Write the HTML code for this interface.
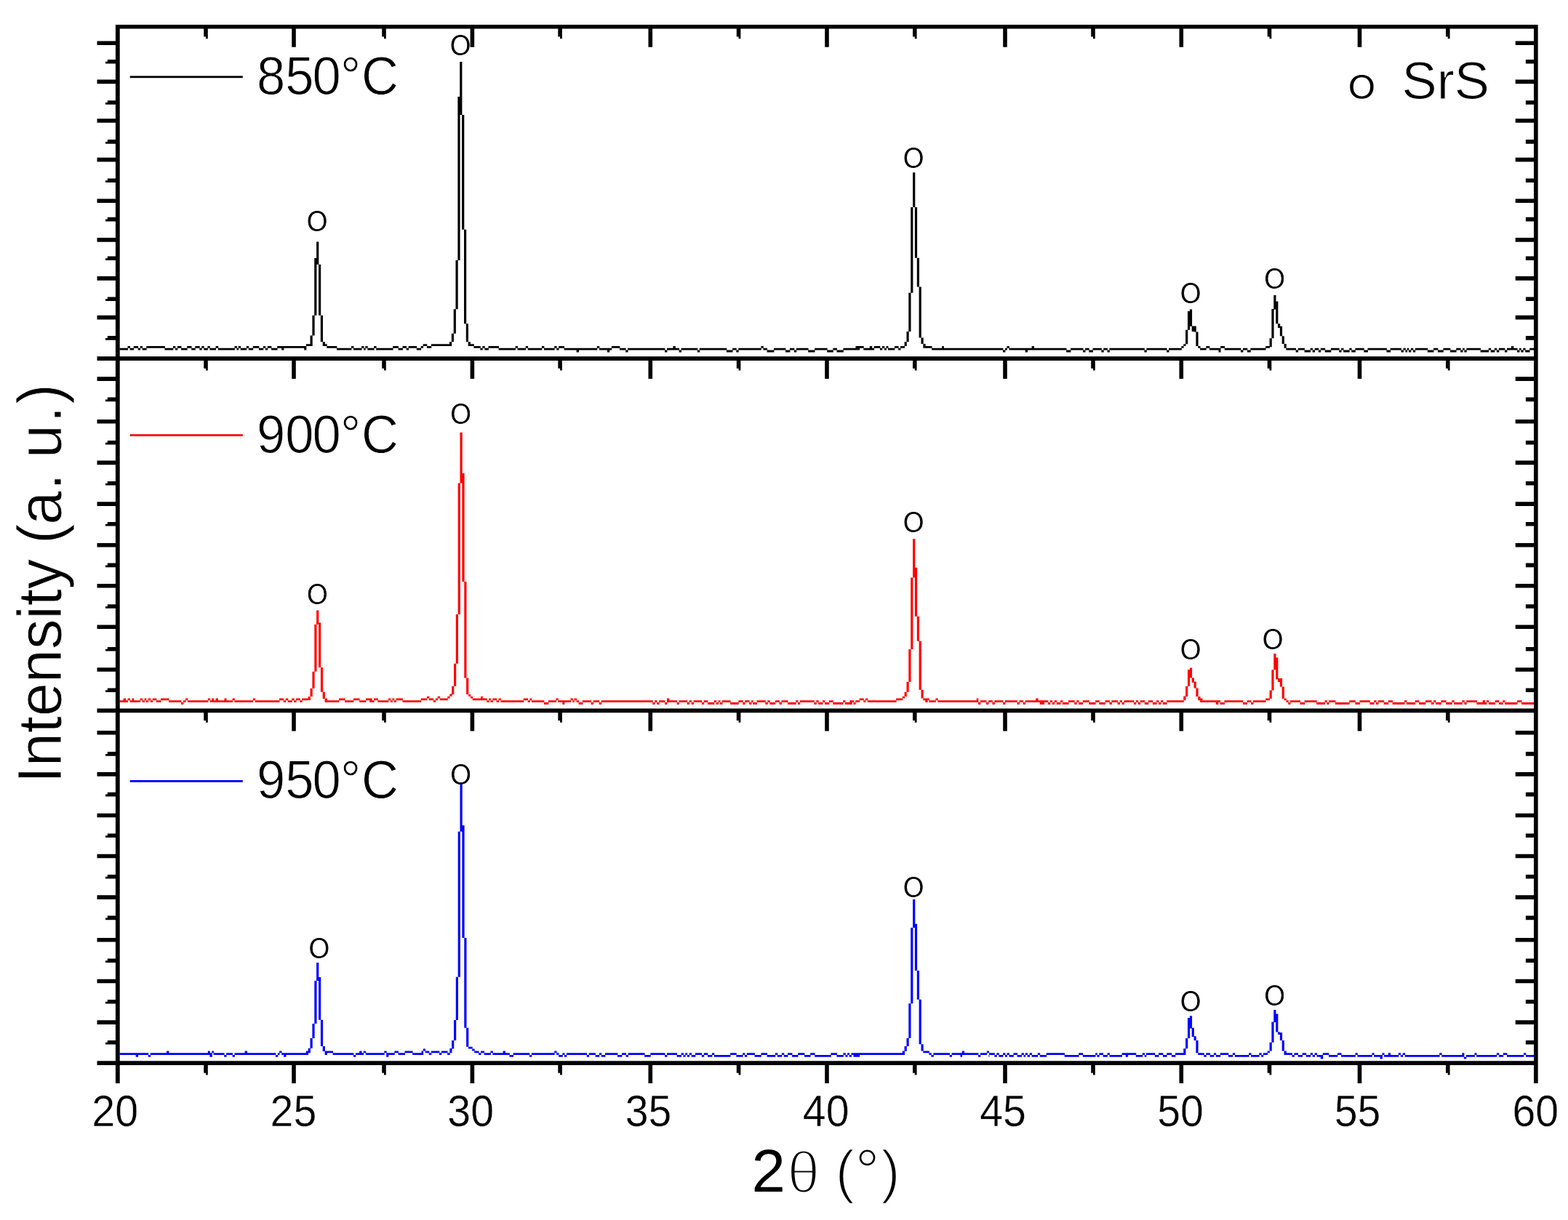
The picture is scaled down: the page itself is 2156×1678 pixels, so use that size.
<!DOCTYPE html>
<html lang="en">
<head>
<meta charset="utf-8">
<title>XRD patterns of SrS at 850, 900 and 950 degrees C</title>
<style>
html,body{margin:0;padding:0;background:#fff;}
body{width:2156px;height:1678px;overflow:hidden;}
svg{display:block;filter:blur(0.7px);}
text{white-space:pre;}
</style>
</head>
<body>
<svg width="2156" height="1678" viewBox="0 0 2156 1678">
<rect width="2156" height="1678" fill="#fff"/>
<g id="curves">
<path fill="#000000" d="M426.50 461.6H429.70V476.0H426.50ZM429.40 433.7H432.60V461.6H429.40ZM432.20 355.0H435.40V433.7H432.20ZM435.10 332.6H438.30V363.7H435.10ZM438.00 363.7H441.20V433.7H438.00ZM440.80 433.7H444.00V470.2H440.80ZM443.70 470.2H446.90V476.0H443.70ZM446.50 473.2H449.70V476.0H446.50ZM618.00 470.2H621.20V476.0H618.00ZM620.80 458.8H624.00V470.2H620.80ZM623.70 425.2H626.90V458.8H623.70ZM626.50 358.0H629.70V425.2H626.50ZM629.40 133.0H632.60V358.0H629.40ZM632.20 85.1H635.40V158.0H632.20ZM635.10 158.0H638.30V315.8H635.10ZM638.00 315.8H641.20V445.2H638.00ZM640.80 445.2H644.00V470.2H640.80ZM643.70 470.2H646.90V476.0H643.70ZM1243.60 470.3H1246.80V476.0H1243.60ZM1246.50 456.0H1249.70V470.3H1246.50ZM1249.30 402.7H1252.50V456.0H1249.30ZM1252.20 285.1H1255.40V402.7H1252.20ZM1255.10 237.2H1258.30V285.1H1255.10ZM1257.90 285.1H1261.10V354.8H1257.90ZM1260.80 354.8H1264.00V394.4H1260.80ZM1263.60 394.4H1266.80V464.6H1263.60ZM1266.50 464.6H1269.70V473.1H1266.50ZM1269.40 473.1H1272.60V478.8H1269.40ZM1624.40 476.0H1627.60V478.8H1624.40ZM1627.30 473.2H1630.50V476.0H1627.30ZM1630.10 453.7H1633.30V473.2H1630.10ZM1633.00 428.0H1636.20V453.7H1633.00ZM1635.90 425.5H1639.10V448.7H1635.90ZM1638.70 448.4H1641.90V455.9H1638.70ZM1641.60 448.4H1644.80V456.6H1641.60ZM1644.40 456.6H1647.60V476.0H1644.40ZM1647.30 476.0H1650.50V478.8H1647.30ZM1745.60 465.2H1748.80V477.3H1745.60ZM1748.40 425.1H1751.60V465.2H1748.40ZM1751.30 406.1H1754.50V425.8H1751.30ZM1754.20 414.4H1757.40V445.2H1754.20ZM1757.00 445.2H1760.20V450.9H1757.00ZM1759.90 448.7H1763.10V462.3H1759.90ZM1762.70 462.3H1765.90V473.0H1762.70ZM1765.60 473.0H1768.80V478.8H1765.60ZM164.50 478.8H175.98V481.6H164.50ZM175.58 476.0H178.95V478.8H175.58ZM178.55 478.8H184.15V481.6H178.55ZM183.75 476.0H190.08V478.8H183.75ZM189.68 478.8H193.05V481.6H189.68ZM192.65 476.0H196.02V478.8H192.65ZM195.62 478.8H201.66V481.6H195.62ZM201.26 476.0H226.89V478.8H201.26ZM226.49 478.8H238.32V481.6H226.49ZM237.92 476.0H241.29V478.8H237.92ZM240.89 478.8H244.26V481.6H240.89ZM243.86 476.0H249.45V478.8H243.86ZM249.05 478.8H257.62V481.6H249.05ZM257.22 476.0H263.55V478.8H257.22ZM263.15 478.8H268.75V481.6H263.15ZM268.35 476.0H274.69V478.8H268.35ZM274.29 478.8H277.65V481.6H274.29ZM277.25 476.0H280.62V478.8H277.25ZM280.22 478.8H285.82V481.6H280.22ZM285.42 476.0H288.79V478.8H285.42ZM288.39 478.8H296.95V481.6H288.39ZM296.55 476.0H300.21V478.8H296.55ZM299.81 478.8H322.92V481.6H299.81ZM322.52 476.0H325.89V478.8H322.52ZM325.49 478.8H328.12V481.6H325.49ZM327.72 476.0H331.09V478.8H327.72ZM330.69 478.8H339.25V481.6H330.69ZM338.85 476.0H342.22V478.8H338.85ZM341.82 478.8H348.16V481.6H341.82ZM347.76 476.0H356.32V478.8H347.76ZM355.92 478.8H362.26V481.6H355.92ZM361.86 476.0H365.22V478.8H361.86ZM364.82 478.8H368.19V481.6H364.82ZM367.79 476.0H373.39V478.8H367.79ZM372.99 478.8H381.55V481.6H372.99ZM381.15 476.0H387.49V478.8H381.15ZM387.09 476.0H390.46V481.6H387.09ZM390.06 476.0H418.66V478.8H390.06ZM418.26 476.0H421.33V481.6H418.26ZM420.93 473.2H426.90V476.0H420.93ZM449.30 476.0H463.37V478.8H449.30ZM462.97 478.8H483.41V481.6H462.97ZM483.01 476.0H486.37V478.8H483.01ZM485.97 478.8H497.51V481.6H485.97ZM497.11 476.0H500.47V478.8H497.11ZM500.07 478.8H502.70V481.6H500.07ZM502.30 476.0H505.67V478.8H502.30ZM505.27 478.8H514.57V481.6H505.27ZM514.17 476.0H517.54V478.8H514.17ZM517.14 478.8H540.55V481.6H517.14ZM540.15 476.0H547.97V478.8H540.15ZM547.57 478.8H553.91V481.6H547.57ZM553.51 476.0H559.10V478.8H553.51ZM558.70 478.8H562.07V481.6H558.70ZM561.67 476.0H573.20V478.8H561.67ZM572.80 478.8H579.14V481.6H572.80ZM578.74 476.0H582.11V478.8H578.74ZM581.71 473.2H587.30V476.0H581.71ZM586.90 476.0H593.24V478.8H586.90ZM592.84 473.2H618.40V476.0H592.84ZM646.50 473.2H651.87V476.0H646.50ZM651.47 476.0H660.77V478.8H651.47ZM660.37 478.8H663.74V481.6H660.37ZM663.34 476.0H666.71V478.8H663.34ZM666.31 478.8H671.90V481.6H666.31ZM671.50 476.0H686.00V478.8H671.50ZM685.60 478.8H709.01V481.6H685.60ZM708.61 476.0H711.98V478.8H708.61ZM711.58 478.8H723.11V481.6H711.58ZM722.71 476.0H726.08V478.8H722.71ZM725.68 478.8H745.37V481.6H725.68ZM744.97 476.0H748.34V478.8H744.97ZM747.94 478.8H760.40V481.6H747.94ZM760.00 478.8H762.63V481.6H760.00ZM762.23 476.0H765.59V478.8H762.23ZM765.19 478.8H768.56V481.6H765.19ZM768.16 476.0H775.98V478.8H768.16ZM775.58 478.8H793.05V481.6H775.58ZM792.65 478.8H796.02V484.4H792.65ZM795.62 478.8H821.25V481.6H795.62ZM820.85 476.0H824.22V478.8H820.85ZM823.82 478.8H835.35V481.6H823.82ZM834.95 478.8H838.32V484.4H834.95ZM837.92 478.8H841.29V481.6H837.92ZM840.89 476.0H852.42V478.8H840.89ZM852.02 478.8H860.59V481.6H852.02ZM860.19 481.6H863.55V484.4H860.19ZM863.15 478.8H914.46V481.6H863.15ZM914.06 481.6H917.43V484.4H914.06ZM917.03 478.8H925.89V481.6H917.03ZM925.49 476.0H928.86V481.6H925.49ZM928.46 478.8H934.05V481.6H928.46ZM933.65 481.6H937.02V484.4H933.65ZM936.62 478.8H959.29V481.6H936.62ZM958.89 481.6H962.26V484.4H958.89ZM961.86 478.8H999.36V481.6H961.86ZM998.96 481.6H1007.52V484.4H998.96ZM1007.12 478.8H1012.72V481.6H1007.12ZM1012.32 481.6H1015.69V484.4H1012.32ZM1015.29 478.8H1046.86V481.6H1015.29ZM1046.46 476.0H1049.82V478.8H1046.46ZM1049.42 478.8H1055.02V481.6H1049.42ZM1054.62 481.6H1064.41V484.4H1054.62ZM1064.01 478.8H1080.44V481.6H1064.01ZM1080.04 481.6H1086.37V484.4H1080.04ZM1085.97 478.8H1092.31V481.6H1085.97ZM1091.91 481.6H1095.28V484.4H1091.91ZM1094.88 478.8H1111.61V481.6H1094.88ZM1111.21 481.6H1120.51V484.4H1111.21ZM1120.11 478.8H1137.58V481.6H1120.11ZM1137.18 481.6H1145.74V484.4H1137.18ZM1145.34 478.8H1150.94V481.6H1145.34ZM1150.54 481.6H1159.84V484.4H1150.54ZM1159.44 478.8H1176.91V481.6H1159.44ZM1176.51 476.0H1182.11V481.6H1176.51ZM1181.71 476.0H1187.75V478.8H1181.71ZM1187.35 478.8H1196.21V481.6H1187.35ZM1195.81 476.0H1199.18V481.6H1195.81ZM1198.78 478.8H1202.14V481.6H1198.78ZM1201.74 476.0H1210.31V478.8H1201.74ZM1209.91 478.8H1213.28V481.6H1209.91ZM1212.88 476.0H1216.24V478.8H1212.88ZM1215.84 478.8H1218.92V481.6H1215.84ZM1218.52 476.0H1221.44V478.8H1218.52ZM1221.04 478.8H1230.34V481.6H1221.04ZM1229.94 476.0H1235.54V478.8H1229.94ZM1235.14 478.8H1238.51V481.6H1235.14ZM1238.11 476.0H1244.00V478.8H1238.11ZM1272.20 476.0H1281.55V478.8H1272.20ZM1281.15 478.8H1295.65V481.6H1281.15ZM1295.25 476.0H1297.88V481.6H1295.25ZM1297.48 478.8H1360.40V481.6H1297.48ZM1360.00 478.8H1379.40V481.6H1360.00ZM1379.00 481.6H1382.37V484.4H1379.00ZM1381.97 478.8H1384.89V481.6H1381.97ZM1384.49 476.0H1387.86V478.8H1384.49ZM1387.46 478.8H1410.12V481.6H1387.46ZM1409.72 478.8H1413.09V484.4H1409.72ZM1412.69 478.8H1419.03V481.6H1412.69ZM1418.63 476.0H1422.00V481.6H1418.63ZM1421.60 478.8H1466.52V481.6H1421.60ZM1466.12 481.6H1472.46V484.4H1466.12ZM1472.06 478.8H1489.53V481.6H1472.06ZM1489.13 481.6H1492.50V484.4H1489.13ZM1492.10 478.8H1497.69V481.6H1492.10ZM1497.29 481.6H1502.89V484.4H1497.29ZM1502.49 478.8H1514.76V481.6H1502.49ZM1514.36 481.6H1517.73V484.4H1514.36ZM1517.33 478.8H1522.92V481.6H1517.33ZM1522.52 481.6H1525.89V484.4H1522.52ZM1525.49 478.8H1573.83V481.6H1525.49ZM1573.43 481.6H1576.80V484.4H1573.43ZM1576.40 478.8H1604.56V481.6H1576.40ZM1604.16 481.6H1607.52V484.4H1604.16ZM1607.12 478.8H1624.80V481.6H1607.12ZM1650.10 478.8H1658.73V481.6H1650.10ZM1658.33 476.0H1660.40V478.8H1658.33ZM1660.00 476.0H1663.37V478.8H1660.00ZM1662.97 478.8H1675.98V481.6H1662.97ZM1675.58 478.8H1678.51V484.4H1675.58ZM1678.11 476.0H1684.15V478.8H1678.11ZM1683.75 478.8H1706.41V481.6H1683.75ZM1706.01 481.6H1709.38V484.4H1706.01ZM1708.98 478.8H1715.32V481.6H1708.98ZM1714.92 481.6H1719.77V484.4H1714.92ZM1719.37 478.8H1740.55V481.6H1719.37ZM1740.15 476.0H1746.00V478.8H1740.15ZM1768.40 478.8H1782.11V481.6H1768.40ZM1781.71 481.6H1785.08V484.4H1781.71ZM1784.68 478.8H1793.98V481.6H1784.68ZM1793.58 481.6H1802.14V484.4H1793.58ZM1801.74 478.8H1805.11V481.6H1801.74ZM1804.71 481.6H1808.08V484.4H1804.71ZM1807.68 478.8H1813.28V481.6H1807.68ZM1812.88 481.6H1816.24V484.4H1812.88ZM1815.84 478.8H1822.18V481.6H1815.84ZM1821.78 481.6H1830.34V484.4H1821.78ZM1829.94 478.8H1836.40V481.6H1829.94ZM1836.00 478.8H1841.59V481.6H1836.00ZM1841.19 481.6H1844.56V484.4H1841.19ZM1844.16 478.8H1847.53V481.6H1844.16ZM1847.13 481.6H1855.69V484.4H1847.13ZM1855.29 478.8H1858.66V481.6H1855.29ZM1858.26 481.6H1863.86V484.4H1858.26ZM1863.46 478.8H1875.73V481.6H1863.46ZM1875.33 481.6H1880.93V484.4H1875.33ZM1880.53 478.8H1906.90V481.6H1880.53ZM1906.50 481.6H1912.10V484.4H1906.50ZM1911.70 478.8H1926.94V481.6H1911.70ZM1926.54 481.6H1929.91V484.4H1926.54ZM1929.51 478.8H1932.87V481.6H1929.51ZM1932.47 481.6H1935.10V484.4H1932.47ZM1934.70 478.8H1937.33V481.6H1934.70ZM1936.93 481.6H1940.30V484.4H1936.93ZM1939.90 478.8H1943.26V481.6H1939.90ZM1942.86 481.6H1946.23V484.4H1942.86ZM1945.83 478.8H1963.30V481.6H1945.83ZM1962.90 481.6H1971.46V484.4H1962.90ZM1971.06 478.8H1977.40V481.6H1971.06ZM1977.00 481.6H1984.82V484.4H1977.00ZM1984.42 478.8H1994.47V481.6H1984.42ZM1994.07 481.6H2002.63V484.4H1994.07ZM2002.23 478.8H2008.57V481.6H2002.23ZM2008.17 481.6H2011.54V484.4H2008.17ZM2011.14 478.8H2013.77V481.6H2011.14ZM2013.37 481.6H2016.73V484.4H2013.37ZM2016.33 478.8H2036.03V481.6H2016.33ZM2035.63 481.6H2047.16V484.4H2035.63ZM2046.76 478.8H2050.13V481.6H2046.76ZM2049.73 481.6H2055.32V484.4H2049.73ZM2054.92 478.8H2058.29V481.6H2054.92ZM2057.89 481.6H2061.26V484.4H2057.89ZM2060.86 478.8H2069.42V481.6H2060.86ZM2069.02 481.6H2072.39V484.4H2069.02ZM2071.99 478.8H2078.33V481.6H2071.99ZM2077.93 476.0H2081.30V481.6H2077.93ZM2080.90 478.8H2086.49V481.6H2080.90ZM2086.09 481.6H2089.46V484.4H2086.09ZM2089.06 478.8H2091.69V481.6H2089.06ZM2091.29 481.6H2094.66V484.4H2091.29ZM2094.26 478.8H2097.62V481.6H2094.26ZM2097.22 481.6H2103.56V484.4H2097.22ZM2103.16 478.8H2112.17V481.6H2103.16Z"/>
<path fill="#ff0000" d="M423.70 958.1H426.90V963.1H423.70ZM426.50 946.7H429.70V958.1H426.50ZM429.40 923.8H432.60V946.7H429.40ZM432.30 858.7H435.50V923.8H432.30ZM435.10 839.4H438.30V858.7H435.10ZM438.00 856.6H441.20V918.1H438.00ZM440.90 918.1H444.10V951.7H440.90ZM443.70 951.7H446.90V961.0H443.70ZM446.60 960.5H449.80V966.1H446.60ZM615.40 957.7H618.60V960.5H615.40ZM618.30 954.6H621.50V957.7H618.30ZM621.10 943.8H624.30V955.3H621.10ZM624.00 912.8H627.20V943.8H624.00ZM626.80 845.1H630.00V912.8H626.80ZM629.70 664.5H632.90V845.1H629.70ZM632.50 594.7H635.70V664.5H632.50ZM635.40 650.9H638.60V800.0H635.40ZM638.30 800.0H641.50V932.4H638.30ZM641.10 932.4H644.30V954.9H641.10ZM644.00 954.9H647.20V957.7H644.00ZM646.90 957.7H650.10V960.5H646.90ZM1240.80 957.7H1244.00V960.5H1240.80ZM1243.60 951.7H1246.80V958.1H1243.60ZM1246.50 937.7H1249.70V951.7H1246.50ZM1249.30 893.0H1252.50V937.7H1249.30ZM1252.20 794.4H1255.40V893.0H1252.20ZM1255.10 741.2H1258.30V794.4H1255.10ZM1257.90 780.8H1261.10V847.7H1257.90ZM1260.80 847.7H1264.00V881.7H1260.80ZM1263.60 881.7H1266.80V948.8H1263.60ZM1266.50 948.8H1269.70V960.5H1266.50ZM1627.30 957.6H1630.50V963.3H1627.30ZM1630.10 943.7H1633.30V958.0H1630.10ZM1633.00 920.9H1636.20V943.7H1633.00ZM1635.90 918.4H1639.10V932.3H1635.90ZM1638.70 932.3H1641.90V938.7H1638.70ZM1641.60 937.6H1644.80V946.6H1641.60ZM1644.40 946.6H1647.60V958.0H1644.40ZM1647.30 958.0H1650.50V963.3H1647.30ZM1650.20 960.5H1653.40V966.1H1650.20ZM1745.60 949.5H1748.80V960.9H1745.60ZM1748.40 921.3H1751.60V949.5H1748.40ZM1751.30 899.0H1754.50V921.3H1751.30ZM1754.20 904.4H1757.40V934.4H1754.20ZM1757.00 933.0H1760.20V938.0H1757.00ZM1759.90 933.0H1763.10V944.5H1759.90ZM1762.70 944.5H1765.90V960.9H1762.70ZM1765.60 960.5H1768.80V963.3H1765.60ZM1768.50 963.3H1771.70V966.1H1768.50ZM1771.30 966.1H1774.50V968.9H1771.30ZM164.50 963.3H170.05V966.1H164.50ZM169.65 960.5H173.02V966.1H169.65ZM172.62 963.3H175.98V966.1H172.62ZM175.58 960.5H178.95V963.3H175.58ZM178.55 963.3H181.92V966.1H178.55ZM181.52 960.5H184.15V966.1H181.52ZM183.75 963.3H193.05V966.1H183.75ZM192.65 960.5H196.02V963.3H192.65ZM195.62 963.3H198.99V966.1H195.62ZM198.59 960.5H201.22V963.3H198.59ZM200.82 963.3H204.18V966.1H200.82ZM203.78 960.5H207.15V963.3H203.78ZM206.75 963.3H210.12V966.1H206.75ZM209.72 960.5H215.32V963.3H209.72ZM214.92 963.3H221.25V966.1H214.92ZM220.85 960.5H232.39V963.3H220.85ZM231.99 963.3H249.45V966.1H231.99ZM249.05 966.1H252.42V968.9H249.05ZM252.02 963.3H255.39V966.1H252.02ZM254.99 960.5H258.36V963.3H254.99ZM257.96 963.3H286.26V966.1H257.96ZM285.86 960.5H289.23V963.3H285.86ZM288.83 963.3H291.75V966.1H288.83ZM291.35 960.5H293.98V966.1H291.35ZM293.58 963.3H296.95V966.1H293.58ZM296.55 960.5H299.92V966.1H296.55ZM299.52 963.3H308.82V966.1H299.52ZM308.42 960.5H311.49V966.1H308.42ZM311.09 963.3H319.95V966.1H311.09ZM319.55 960.5H322.92V963.3H319.55ZM322.52 963.3H348.16V966.1H322.52ZM347.76 960.5H351.12V963.3H347.76ZM350.72 963.3H384.52V966.1H350.72ZM384.12 960.5H390.16V963.3H384.12ZM389.76 963.3H393.13V966.1H389.76ZM392.73 960.5H396.10V963.3H392.73ZM395.70 963.3H401.59V966.1H395.70ZM401.19 960.5H404.56V963.3H401.19ZM404.16 963.3H407.52V966.1H404.16ZM407.12 960.5H412.72V963.3H407.12ZM412.32 963.3H415.69V966.1H412.32ZM415.29 960.5H424.10V963.3H415.29ZM449.40 963.3H460.40V966.1H449.40ZM460.00 963.3H466.34V966.1H460.00ZM465.94 960.5H474.50V963.3H465.94ZM474.10 963.3H486.37V966.1H474.10ZM485.97 960.5H494.54V963.3H485.97ZM494.14 963.3H503.44V966.1H494.14ZM503.04 960.5H508.64V963.3H503.04ZM508.24 960.5H511.61V966.1H508.24ZM511.21 963.3H514.57V966.1H511.21ZM514.17 960.5H519.77V963.3H514.17ZM519.37 963.3H534.31V966.1H519.37ZM533.91 960.5H537.28V963.3H533.91ZM536.88 963.3H539.81V966.1H536.88ZM539.41 960.5H542.33V963.3H539.41ZM541.93 963.3H545.00V966.1H541.93ZM544.60 960.5H553.91V963.3H544.60ZM553.51 963.3H579.14V966.1H553.51ZM578.74 960.5H587.30V963.3H578.74ZM586.90 957.7H590.27V960.5H586.90ZM589.87 960.5H596.21V963.3H589.87ZM595.81 963.3H599.18V966.1H595.81ZM598.78 960.5H602.14V963.3H598.78ZM601.74 957.7H605.11V960.5H601.74ZM604.71 960.5H615.80V963.3H604.71ZM649.70 960.5H661.51V963.3H649.70ZM661.11 957.7H663.74V963.3H661.11ZM663.34 960.5H669.68V963.3H663.34ZM669.28 963.3H672.64V966.1H669.28ZM672.24 960.5H674.87V963.3H672.24ZM674.47 963.3H677.84V966.1H674.47ZM677.44 960.5H683.03V963.3H677.44ZM682.63 963.3H686.00V966.1H682.63ZM685.60 960.5H688.97V963.3H685.60ZM688.57 963.3H720.14V966.1H688.57ZM719.74 960.5H726.08V963.3H719.74ZM725.68 963.3H728.75V966.1H725.68ZM728.35 960.5H731.27V963.3H728.35ZM730.87 963.3H748.34V966.1H730.87ZM747.94 966.1H754.28V968.9H747.94ZM753.88 963.3H760.40V966.1H753.88ZM760.00 963.3H764.85V966.1H760.00ZM764.45 960.5H767.82V963.3H764.45ZM767.42 963.3H773.76V966.1H767.42ZM773.36 963.3H776.43V968.9H773.36ZM776.03 963.3H784.89V966.1H776.03ZM784.49 960.5H787.86V963.3H784.49ZM787.46 963.3H790.08V966.1H787.46ZM789.68 960.5H793.05V963.3H789.68ZM792.65 963.3H796.02V966.1H792.65ZM795.62 966.1H801.22V968.9H795.62ZM800.82 963.3H813.09V966.1H800.82ZM812.69 966.1H816.06V968.9H812.69ZM815.66 963.3H824.22V966.1H815.66ZM823.82 966.1H827.19V968.9H823.82ZM826.79 963.3H897.69V966.1H826.79ZM897.29 966.1H900.66V968.9H897.29ZM900.26 963.3H903.63V966.1H900.26ZM903.23 966.1H906.60V968.9H903.23ZM906.20 963.3H914.46V966.1H906.20ZM914.06 966.1H917.43V968.9H914.06ZM917.03 960.5H920.40V966.1H917.03ZM920.00 963.3H931.09V966.1H920.00ZM930.69 966.1H934.05V968.9H930.69ZM933.65 963.3H945.19V966.1H933.65ZM944.79 966.1H948.16V968.9H944.79ZM947.76 963.3H951.12V966.1H947.76ZM950.72 966.1H954.09V968.9H950.72ZM953.69 963.3H965.22V966.1H953.69ZM964.82 966.1H968.19V968.9H964.82ZM967.79 963.3H973.39V966.1H967.79ZM972.99 966.1H982.29V968.9H972.99ZM981.89 963.3H985.26V966.1H981.89ZM984.86 966.1H988.23V968.9H984.86ZM987.83 963.3H990.46V966.1H987.83ZM990.06 966.1H993.42V968.9H990.06ZM993.02 963.3H1004.56V966.1H993.02ZM1004.16 966.1H1015.69V968.9H1004.16ZM1015.29 963.3H1021.62V966.1H1015.29ZM1021.22 966.1H1024.59V968.9H1021.22ZM1024.19 963.3H1030.53V966.1H1024.19ZM1030.13 966.1H1033.50V968.9H1030.13ZM1033.10 963.3H1035.72V966.1H1033.10ZM1035.32 966.1H1040.92V968.9H1035.32ZM1040.52 963.3H1052.79V966.1H1040.52ZM1052.39 966.1H1055.76V968.9H1052.39ZM1055.36 963.3H1058.73V966.1H1055.36ZM1058.33 966.1H1060.40V968.9H1058.33ZM1060.00 966.1H1066.34V968.9H1060.00ZM1065.94 963.3H1071.98V966.1H1065.94ZM1071.58 966.1H1074.95V968.9H1071.58ZM1074.55 963.3H1083.41V966.1H1074.55ZM1083.01 966.1H1094.54V968.9H1083.01ZM1094.14 963.3H1097.51V966.1H1094.14ZM1097.11 966.1H1100.18V968.9H1097.11ZM1099.78 963.3H1119.77V966.1H1099.78ZM1119.37 966.1H1122.74V968.9H1119.37ZM1122.34 963.3H1125.71V966.1H1122.34ZM1125.31 966.1H1131.35V968.9H1125.31ZM1130.95 963.3H1134.31V966.1H1130.95ZM1133.91 966.1H1140.25V968.9H1133.91ZM1139.85 963.3H1145.74V966.1H1139.85ZM1145.34 966.1H1159.55V968.9H1145.34ZM1159.15 963.3H1162.52V966.1H1159.15ZM1162.12 966.1H1168.75V968.9H1162.12ZM1168.35 963.3H1171.72V968.9H1168.35ZM1171.32 963.3H1173.94V966.1H1171.32ZM1173.54 966.1H1176.62V968.9H1173.54ZM1176.22 963.3H1182.11V966.1H1176.22ZM1181.71 960.5H1187.75V963.3H1181.71ZM1187.35 963.3H1190.27V966.1H1187.35ZM1189.87 960.5H1193.24V963.3H1189.87ZM1192.84 963.3H1232.57V966.1H1192.84ZM1232.17 960.5H1241.20V963.3H1232.17ZM1269.30 960.5H1272.64V963.3H1269.30ZM1272.24 960.5H1275.61V966.1H1272.24ZM1275.21 960.5H1277.84V963.3H1275.21ZM1277.44 963.3H1286.75V966.1H1277.44ZM1286.35 960.5H1289.71V963.3H1286.35ZM1289.31 963.3H1343.15V966.1H1289.31ZM1342.75 960.5H1345.37V966.1H1342.75ZM1344.97 966.1H1348.34V968.9H1344.97ZM1347.94 963.3H1356.50V966.1H1347.94ZM1356.10 966.1H1359.47V968.9H1356.10ZM1359.07 963.3H1360.40V966.1H1359.07ZM1360.00 963.3H1364.85V966.1H1360.00ZM1364.45 966.1H1367.82V968.9H1364.45ZM1367.42 963.3H1379.40V966.1H1367.42ZM1379.00 966.1H1382.37V968.9H1379.00ZM1381.97 963.3H1398.99V966.1H1381.97ZM1398.59 966.1H1401.96V968.9H1398.59ZM1401.56 963.3H1407.15V966.1H1401.56ZM1406.75 966.1H1410.12V968.9H1406.75ZM1409.72 963.3H1424.52V966.1H1409.72ZM1424.12 960.5H1427.49V966.1H1424.12ZM1427.09 963.3H1430.16V966.1H1427.09ZM1429.76 963.3H1436.10V968.9H1429.76ZM1435.70 963.3H1441.29V966.1H1435.70ZM1440.89 966.1H1444.26V968.9H1440.89ZM1443.86 963.3H1447.23V966.1H1443.86ZM1446.83 966.1H1450.20V968.9H1446.83ZM1449.80 963.3H1453.16V966.1H1449.80ZM1452.76 966.1H1458.36V968.9H1452.76ZM1457.96 963.3H1461.33V966.1H1457.96ZM1460.93 966.1H1469.49V968.9H1460.93ZM1469.09 963.3H1477.65V966.1H1469.09ZM1477.25 966.1H1480.62V968.9H1477.25ZM1480.22 963.3H1483.59V966.1H1480.22ZM1483.19 966.1H1489.23V968.9H1483.19ZM1488.83 963.3H1497.69V966.1H1488.83ZM1497.29 966.1H1506.60V968.9H1497.29ZM1506.20 963.3H1511.79V966.1H1506.20ZM1511.39 966.1H1519.95V968.9H1511.39ZM1519.55 963.3H1525.89V966.1H1519.55ZM1525.49 966.1H1528.86V968.9H1525.49ZM1528.46 963.3H1537.02V966.1H1528.46ZM1536.62 966.1H1539.99V968.9H1536.62ZM1539.59 963.3H1542.96V966.1H1539.59ZM1542.56 966.1H1545.93V968.9H1542.56ZM1545.53 963.3H1559.29V966.1H1545.53ZM1558.89 966.1H1562.26V968.9H1558.89ZM1561.86 963.3H1565.22V966.1H1561.86ZM1564.82 966.1H1568.19V968.9H1564.82ZM1567.79 963.3H1574.13V966.1H1567.79ZM1573.73 966.1H1579.32V968.9H1573.73ZM1578.92 963.3H1585.26V966.1H1578.92ZM1584.86 966.1H1590.46V968.9H1584.86ZM1590.06 963.3H1593.42V966.1H1590.06ZM1593.02 966.1H1596.39V968.9H1593.02ZM1595.99 963.3H1599.36V966.1H1595.99ZM1598.96 966.1H1604.56V968.9H1598.96ZM1604.16 963.3H1627.70V966.1H1604.16ZM1653.00 963.3H1660.40V966.1H1653.00ZM1660.00 963.3H1672.27V966.1H1660.00ZM1671.87 963.3H1675.24V968.9H1671.87ZM1674.84 963.3H1678.21V966.1H1674.84ZM1677.81 966.1H1683.85V968.9H1677.81ZM1683.45 963.3H1709.38V966.1H1683.45ZM1708.98 966.1H1715.02V968.9H1708.98ZM1714.62 963.3H1720.51V966.1H1714.62ZM1720.11 966.1H1723.48V968.9H1720.11ZM1723.08 963.3H1740.55V966.1H1723.08ZM1740.15 960.5H1746.00V963.3H1740.15ZM1774.10 963.3H1788.04V966.1H1774.10ZM1787.64 966.1H1793.98V968.9H1787.64ZM1793.58 963.3H1810.60V966.1H1793.58ZM1810.20 966.1H1821.88V968.9H1810.20ZM1821.48 963.3H1824.85V966.1H1821.48ZM1824.45 966.1H1827.38V968.9H1824.45ZM1826.98 963.3H1836.40V966.1H1826.98ZM1836.00 966.1H1855.69V968.9H1836.00ZM1855.29 963.3H1863.86V966.1H1855.29ZM1863.46 966.1H1869.80V968.9H1863.46ZM1869.40 963.3H1883.90V966.1H1869.40ZM1883.50 966.1H1889.54V968.9H1883.50ZM1889.14 963.3H1892.50V966.1H1889.14ZM1892.10 966.1H1895.47V968.9H1892.10ZM1895.07 963.3H1903.19V966.1H1895.07ZM1902.79 966.1H1909.13V968.9H1902.79ZM1908.73 963.3H1915.06V966.1H1908.73ZM1914.66 966.1H1931.39V968.9H1914.66ZM1930.99 963.3H1934.36V966.1H1930.99ZM1933.96 966.1H1946.23V968.9H1933.96ZM1945.83 963.3H1951.43V966.1H1945.83ZM1951.03 966.1H1960.33V968.9H1951.03ZM1959.93 963.3H1968.50V966.1H1959.93ZM1968.10 966.1H1971.46V968.9H1968.10ZM1971.06 963.3H1974.43V966.1H1971.06ZM1974.03 966.1H1981.85V968.9H1974.03ZM1981.45 963.3H1988.53V966.1H1981.45ZM1988.13 966.1H1996.70V968.9H1988.13ZM1996.30 963.3H1999.67V966.1H1996.30ZM1999.27 966.1H2010.80V968.9H1999.27ZM2010.40 963.3H2013.77V966.1H2010.40ZM2013.37 966.1H2016.73V968.9H2013.37ZM2016.33 963.3H2030.83V966.1H2016.33ZM2030.43 966.1H2039.00V968.9H2030.43ZM2038.60 963.3H2041.97V968.9H2038.60ZM2041.57 966.1H2044.19V968.9H2041.57ZM2043.79 963.3H2047.16V966.1H2043.79ZM2046.76 966.1H2056.07V968.9H2046.76ZM2055.67 963.3H2061.26V966.1H2055.67ZM2060.86 966.1H2066.46V968.9H2060.86ZM2066.06 963.3H2069.42V966.1H2066.06ZM2069.02 966.1H2086.49V968.9H2069.02ZM2086.09 963.3H2092.43V966.1H2086.09ZM2092.03 966.1H2112.17V968.9H2092.03Z"/>
<path fill="#0000ff" d="M420.80 1445.4H424.00V1451.0H420.80ZM423.70 1441.7H426.90V1448.2H423.70ZM426.50 1428.1H429.70V1441.7H426.50ZM429.40 1408.1H432.60V1428.1H429.40ZM432.30 1349.0H435.50V1408.1H432.30ZM435.10 1324.1H438.30V1349.0H435.10ZM438.00 1344.1H441.20V1402.8H438.00ZM440.90 1402.8H444.10V1439.1H440.90ZM443.70 1439.1H446.90V1446.0H443.70ZM446.60 1445.4H449.80V1451.0H446.60ZM618.30 1442.0H621.50V1448.2H618.30ZM621.10 1431.0H624.30V1442.4H621.10ZM624.00 1403.1H627.20V1431.0H624.00ZM626.80 1343.7H630.00V1403.1H626.80ZM629.70 1143.7H632.90V1343.7H629.70ZM632.50 1078.7H635.70V1143.7H632.50ZM635.40 1135.2H638.60V1290.1H635.40ZM638.30 1290.1H641.50V1413.8H638.30ZM641.10 1413.8H644.30V1439.8H641.10ZM1240.80 1445.4H1244.00V1451.0H1240.80ZM1243.60 1439.1H1246.80V1445.7H1243.60ZM1246.50 1427.7H1249.70V1439.1H1246.50ZM1249.30 1380.2H1252.50V1427.7H1249.30ZM1252.20 1276.0H1255.40V1380.2H1252.20ZM1255.10 1236.9H1258.30V1276.0H1255.10ZM1257.90 1270.8H1261.10V1335.0H1257.90ZM1260.80 1335.0H1264.00V1374.7H1260.80ZM1263.60 1374.7H1266.80V1436.3H1263.60ZM1266.50 1436.3H1269.70V1445.4H1266.50ZM1627.30 1442.3H1630.50V1451.0H1627.30ZM1630.10 1428.0H1633.30V1442.3H1630.10ZM1633.00 1400.1H1636.20V1428.0H1633.00ZM1635.90 1397.3H1639.10V1414.4H1635.90ZM1638.70 1413.7H1641.90V1425.9H1638.70ZM1641.60 1425.2H1644.80V1430.9H1641.60ZM1644.40 1430.9H1647.60V1448.2H1644.40ZM1742.70 1445.4H1745.90V1448.2H1742.70ZM1745.60 1433.8H1748.80V1445.4H1745.60ZM1748.40 1405.6H1751.60V1433.8H1748.40ZM1751.30 1389.0H1754.50V1405.9H1751.30ZM1754.20 1394.4H1757.40V1419.5H1754.20ZM1757.00 1419.5H1760.20V1423.0H1757.00ZM1759.90 1420.2H1763.10V1430.9H1759.90ZM1762.70 1430.9H1765.90V1445.4H1762.70ZM1765.60 1445.4H1768.80V1451.0H1765.60ZM164.50 1448.2H187.12V1451.0H164.50ZM186.72 1448.2H190.08V1453.8H186.72ZM189.68 1448.2H204.18V1451.0H189.68ZM203.78 1451.0H207.15V1453.8H203.78ZM206.75 1448.2H229.42V1451.0H206.75ZM229.02 1445.4H232.39V1451.0H229.02ZM231.99 1448.2H286.26V1451.0H231.99ZM285.86 1445.4H288.79V1451.0H285.86ZM288.39 1448.2H291.75V1453.8H288.39ZM291.35 1445.4H293.98V1448.2H291.35ZM293.58 1448.2H308.53V1451.0H293.58ZM308.13 1451.0H311.49V1453.8H308.13ZM311.09 1448.2H319.95V1451.0H311.09ZM319.55 1451.0H322.92V1453.8H319.55ZM322.52 1448.2H337.02V1451.0H322.52ZM336.62 1445.4H339.99V1451.0H336.62ZM339.59 1448.2H379.32V1451.0H339.59ZM378.92 1451.0H382.29V1453.8H378.92ZM381.89 1448.2H384.52V1451.0H381.89ZM384.12 1445.4H387.49V1448.2H384.12ZM387.09 1448.2H390.46V1451.0H387.09ZM390.06 1448.2H393.42V1453.8H390.06ZM393.02 1448.2H421.20V1451.0H393.02ZM449.40 1445.4H457.99V1448.2H449.40ZM457.59 1448.2H460.40V1451.0H457.59ZM460.00 1448.2H486.37V1451.0H460.00ZM485.97 1451.0H489.34V1453.8H485.97ZM488.94 1448.2H494.54V1451.0H488.94ZM494.14 1445.4H497.51V1451.0H494.14ZM497.11 1448.2H500.18V1451.0H497.11ZM499.78 1445.4H503.15V1448.2H499.78ZM502.75 1448.2H528.67V1451.0H502.75ZM528.27 1445.4H531.64V1448.2H528.27ZM531.24 1448.2H534.31V1453.8H531.24ZM533.91 1448.2H542.77V1451.0H533.91ZM542.37 1445.4H547.97V1448.2H542.37ZM547.57 1448.2H556.87V1451.0H547.57ZM556.47 1445.4H567.56V1448.2H556.47ZM567.16 1448.2H579.88V1451.0H567.16ZM579.48 1445.4H582.11V1451.0H579.48ZM581.71 1442.6H585.08V1445.4H581.71ZM584.68 1445.4H590.27V1448.2H584.68ZM589.87 1448.2H593.24V1451.0H589.87ZM592.84 1445.4H604.37V1448.2H592.84ZM603.97 1448.2H607.34V1451.0H603.97ZM606.94 1445.4H615.50V1448.2H606.94ZM615.10 1448.2H618.70V1451.0H615.10ZM643.90 1439.8H649.64V1442.6H643.90ZM649.24 1442.6H652.61V1445.4H649.24ZM652.21 1445.4H658.54V1448.2H652.21ZM658.14 1448.2H661.51V1451.0H658.14ZM661.11 1445.4H665.97V1448.2H661.11ZM665.57 1448.2H674.87V1451.0H665.57ZM674.47 1445.4H677.84V1448.2H674.47ZM677.44 1448.2H691.94V1451.0H677.44ZM691.54 1445.4H694.91V1451.0H691.54ZM694.51 1448.2H700.85V1451.0H694.51ZM700.45 1451.0H706.04V1453.8H700.45ZM705.64 1448.2H728.30V1451.0H705.64ZM727.90 1451.0H731.27V1453.8H727.90ZM730.87 1448.2H760.40V1451.0H730.87ZM760.00 1448.2H762.63V1451.0H760.00ZM762.23 1445.4H765.59V1448.2H762.23ZM765.19 1448.2H768.56V1451.0H765.19ZM768.16 1451.0H773.76V1453.8H768.16ZM773.36 1448.2H776.43V1451.0H773.36ZM776.03 1451.0H779.40V1453.8H776.03ZM779.00 1448.2H807.15V1451.0H779.00ZM806.75 1451.0H810.12V1453.8H806.75ZM809.72 1448.2H819.03V1451.0H809.72ZM818.63 1451.0H824.22V1453.8H818.63ZM823.82 1448.2H827.19V1451.0H823.82ZM826.79 1451.0H832.39V1453.8H826.79ZM831.99 1448.2H849.45V1451.0H831.99ZM849.05 1451.0H855.39V1453.8H849.05ZM854.99 1448.2H861.03V1451.0H854.99ZM860.63 1451.0H864.00V1453.8H860.63ZM863.60 1448.2H886.56V1451.0H863.60ZM886.16 1451.0H894.72V1453.8H886.16ZM894.32 1448.2H914.46V1451.0H894.32ZM914.06 1451.0H917.43V1453.8H914.06ZM917.03 1448.2H931.09V1451.0H917.03ZM930.69 1451.0H937.02V1453.8H930.69ZM936.62 1448.2H939.99V1451.0H936.62ZM939.59 1451.0H942.66V1453.8H939.59ZM942.26 1448.2H945.19V1451.0H942.26ZM944.79 1451.0H948.16V1453.8H944.79ZM947.76 1448.2H951.12V1451.0H947.76ZM950.72 1451.0H956.32V1453.8H950.72ZM955.92 1448.2H965.22V1451.0H955.92ZM964.82 1451.0H968.19V1453.8H964.82ZM967.79 1448.2H973.39V1451.0H967.79ZM972.99 1451.0H979.32V1453.8H972.99ZM978.92 1448.2H982.29V1451.0H978.92ZM981.89 1451.0H1004.56V1453.8H981.89ZM1004.16 1448.2H1012.72V1451.0H1004.16ZM1012.32 1451.0H1021.62V1453.8H1012.32ZM1021.22 1448.2H1024.30V1451.0H1021.22ZM1023.90 1451.0H1027.26V1453.8H1023.90ZM1026.86 1448.2H1037.95V1451.0H1026.86ZM1037.55 1451.0H1046.86V1453.8H1037.55ZM1046.46 1448.2H1055.02V1451.0H1046.46ZM1054.62 1451.0H1060.40V1453.8H1054.62ZM1060.00 1451.0H1066.34V1453.8H1060.00ZM1065.94 1448.2H1069.31V1451.0H1065.94ZM1068.91 1451.0H1075.24V1453.8H1068.91ZM1074.84 1448.2H1078.21V1451.0H1074.84ZM1077.81 1451.0H1083.41V1453.8H1077.81ZM1083.01 1448.2H1089.34V1451.0H1083.01ZM1088.94 1451.0H1097.51V1453.8H1088.94ZM1097.11 1448.2H1106.41V1451.0H1097.11ZM1106.01 1451.0H1114.57V1453.8H1106.01ZM1114.17 1448.2H1120.51V1451.0H1114.17ZM1120.11 1451.0H1142.77V1453.8H1120.11ZM1142.37 1448.2H1150.94V1451.0H1142.37ZM1150.54 1451.0H1159.84V1453.8H1150.54ZM1159.44 1448.2H1162.81V1451.0H1159.44ZM1162.41 1451.0H1165.48V1453.8H1162.41ZM1165.08 1448.2H1168.01V1451.0H1165.08ZM1167.61 1451.0H1170.98V1453.8H1167.61ZM1170.58 1448.2H1173.94V1451.0H1170.58ZM1173.54 1448.2H1182.11V1453.8H1173.54ZM1181.71 1448.2H1241.20V1451.0H1181.71ZM1269.30 1445.4H1277.84V1448.2H1269.30ZM1277.44 1448.2H1280.81V1451.0H1277.44ZM1280.41 1451.0H1283.78V1453.8H1280.41ZM1283.38 1448.2H1306.04V1451.0H1283.38ZM1305.64 1451.0H1309.01V1453.8H1305.64ZM1308.61 1448.2H1320.88V1451.0H1308.61ZM1320.48 1448.2H1323.11V1453.8H1320.48ZM1322.71 1445.4H1326.08V1451.0H1322.71ZM1325.68 1448.2H1345.37V1451.0H1325.68ZM1344.97 1451.0H1348.34V1453.8H1344.97ZM1347.94 1448.2H1357.25V1451.0H1347.94ZM1356.85 1445.4H1359.92V1448.2H1356.85ZM1359.52 1451.0H1360.40V1453.8H1359.52ZM1360.00 1448.2H1367.82V1451.0H1360.00ZM1367.42 1451.0H1370.79V1453.8H1367.42ZM1370.39 1448.2H1373.76V1451.0H1370.39ZM1373.36 1451.0H1379.40V1453.8H1373.36ZM1379.00 1448.2H1382.37V1451.0H1379.00ZM1381.97 1451.0H1384.89V1453.8H1381.97ZM1384.49 1448.2H1387.86V1451.0H1384.49ZM1387.46 1451.0H1393.80V1453.8H1387.46ZM1393.40 1448.2H1398.99V1451.0H1393.40ZM1398.59 1451.0H1404.93V1453.8H1398.59ZM1404.53 1448.2H1407.90V1451.0H1404.53ZM1407.50 1451.0H1410.12V1453.8H1407.50ZM1409.72 1448.2H1413.09V1451.0H1409.72ZM1412.69 1451.0H1416.06V1453.8H1412.69ZM1415.66 1448.2H1419.03V1451.0H1415.66ZM1418.63 1451.0H1427.19V1453.8H1418.63ZM1426.79 1448.2H1430.16V1451.0H1426.79ZM1429.76 1451.0H1439.06V1453.8H1429.76ZM1438.66 1448.2H1464.00V1451.0H1438.66ZM1463.60 1451.0H1483.59V1453.8H1463.60ZM1483.19 1448.2H1489.23V1451.0H1483.19ZM1488.83 1451.0H1506.60V1453.8H1488.83ZM1506.20 1448.2H1508.82V1451.0H1506.20ZM1508.42 1451.0H1511.79V1453.8H1508.42ZM1511.39 1448.2H1516.99V1451.0H1511.39ZM1516.59 1451.0H1522.92V1453.8H1516.59ZM1522.52 1448.2H1525.89V1451.0H1522.52ZM1525.49 1451.0H1542.96V1453.8H1525.49ZM1542.56 1448.2H1548.16V1451.0H1542.56ZM1547.76 1448.2H1551.12V1453.8H1547.76ZM1550.72 1448.2H1562.26V1451.0H1550.72ZM1561.86 1451.0H1571.16V1453.8H1561.86ZM1570.76 1448.2H1574.13V1451.0H1570.76ZM1573.73 1451.0H1576.36V1453.8H1573.73ZM1575.96 1448.2H1588.23V1451.0H1575.96ZM1587.83 1451.0H1593.42V1453.8H1587.83ZM1593.02 1448.2H1599.36V1451.0H1593.02ZM1598.96 1451.0H1604.56V1453.8H1598.96ZM1604.16 1448.2H1611.23V1451.0H1604.16ZM1610.83 1451.0H1616.43V1453.8H1610.83ZM1616.03 1448.2H1627.70V1451.0H1616.03ZM1647.20 1448.2H1655.76V1451.0H1647.20ZM1655.36 1451.0H1658.73V1453.8H1655.36ZM1658.33 1448.2H1660.40V1451.0H1658.33ZM1660.00 1448.2H1664.11V1451.0H1660.00ZM1663.71 1451.0H1669.31V1453.8H1663.71ZM1668.91 1448.2H1672.27V1451.0H1668.91ZM1671.87 1451.0H1678.21V1453.8H1671.87ZM1677.81 1448.2H1689.34V1451.0H1677.81ZM1688.94 1451.0H1695.28V1453.8H1688.94ZM1694.88 1448.2H1698.25V1451.0H1694.88ZM1697.85 1451.0H1717.54V1453.8H1697.85ZM1717.14 1448.2H1720.51V1451.0H1717.14ZM1720.11 1451.0H1731.64V1453.8H1720.11ZM1731.24 1448.2H1734.61V1451.0H1731.24ZM1734.21 1451.0H1737.28V1453.8H1734.21ZM1736.88 1448.2H1743.10V1451.0H1736.88ZM1768.40 1448.2H1776.91V1451.0H1768.40ZM1776.51 1451.0H1779.88V1453.8H1776.51ZM1779.48 1448.2H1785.08V1451.0H1779.48ZM1784.68 1451.0H1791.01V1453.8H1784.68ZM1790.61 1448.2H1796.21V1451.0H1790.61ZM1795.81 1451.0H1802.14V1453.8H1795.81ZM1801.74 1448.2H1805.11V1451.0H1801.74ZM1804.71 1451.0H1808.08V1453.8H1804.71ZM1807.68 1448.2H1811.05V1451.0H1807.68ZM1810.65 1451.0H1816.24V1453.8H1810.65ZM1815.84 1451.0H1819.21V1456.6H1815.84ZM1818.81 1448.2H1827.38V1451.0H1818.81ZM1826.98 1451.0H1836.40V1453.8H1826.98ZM1836.00 1451.0H1839.37V1453.8H1836.00ZM1838.97 1448.2H1844.56V1451.0H1838.97ZM1844.16 1451.0H1863.86V1453.8H1844.16ZM1863.46 1448.2H1866.83V1451.0H1863.46ZM1866.43 1451.0H1886.86V1453.8H1866.43ZM1886.46 1448.2H1889.54V1451.0H1886.46ZM1889.14 1451.0H1898.00V1453.8H1889.14ZM1897.60 1451.0H1900.96V1456.6H1897.60ZM1900.56 1448.2H1903.49V1451.0H1900.56ZM1903.09 1451.0H1909.13V1453.8H1903.09ZM1908.73 1448.2H1912.10V1453.8H1908.73ZM1911.70 1451.0H1923.23V1453.8H1911.70ZM1922.83 1448.2H1926.20V1451.0H1922.83ZM1925.80 1451.0H1929.16V1453.8H1925.80ZM1928.76 1448.2H1932.13V1451.0H1928.76ZM1931.73 1451.0H1979.63V1453.8H1931.73ZM1979.23 1448.2H1982.60V1451.0H1979.23ZM1982.20 1451.0H2010.80V1453.8H1982.20ZM2010.40 1448.2H2013.32V1453.8H2010.40ZM2012.92 1453.8H2016.29V1456.6H2012.92ZM2015.89 1451.0H2027.87V1453.8H2015.89ZM2027.47 1448.2H2030.54V1451.0H2027.47ZM2030.14 1451.0H2058.29V1453.8H2030.14ZM2057.89 1448.2H2061.26V1451.0H2057.89ZM2060.86 1451.0H2067.20V1453.8H2060.86ZM2066.80 1448.2H2072.39V1451.0H2066.80ZM2071.99 1451.0H2095.40V1453.8H2071.99ZM2095.00 1448.2H2098.37V1451.0H2095.00ZM2097.97 1451.0H2112.17V1453.8H2097.97Z"/>
</g>
<g id="axes" fill="#000">
<path d="M158.9 34.0H164.7V1490.1H158.9ZM2109.0 34.0H2114.7V1490.1H2109.0ZM158.9 34.0H2114.7V39.6H158.9ZM158.9 490.3H2114.7V495.9H158.9ZM158.9 974.6H2114.7V980.2H158.9ZM158.9 1459.3H2114.7V1464.9H158.9ZM280.2 39.1H283.0V50.4H280.2ZM283.0 39.1H285.8V53.2H283.0ZM280.2 495.4H283.0V506.7H280.2ZM283.0 495.4H285.8V509.5H283.0ZM280.2 979.7H283.0V991.0H280.2ZM283.0 979.7H285.8V993.8H283.0ZM280.2 1464.4H283.0V1475.7H280.2ZM283.0 1464.4H285.8V1478.5H283.0ZM401.2 39.1H406.8V64.8H401.2ZM401.2 495.4H406.8V521.1H401.2ZM401.2 979.7H406.8V1005.4H401.2ZM401.2 1464.4H406.8V1490.1H401.2ZM525.2 39.1H528.0V50.4H525.2ZM528.0 39.1H530.8V53.2H528.0ZM525.2 495.4H528.0V506.7H525.2ZM528.0 495.4H530.8V509.5H528.0ZM525.2 979.7H528.0V991.0H525.2ZM528.0 979.7H530.8V993.8H528.0ZM525.2 1464.4H528.0V1475.7H525.2ZM528.0 1464.4H530.8V1478.5H528.0ZM646.6 39.1H652.2V64.8H646.6ZM646.6 495.4H652.2V521.1H646.6ZM646.6 979.7H652.2V1005.4H646.6ZM646.6 1464.4H652.2V1490.1H646.6ZM767.3 39.1H770.1V50.4H767.3ZM770.1 39.1H772.9V53.2H770.1ZM767.3 495.4H770.1V506.7H767.3ZM770.1 495.4H772.9V509.5H770.1ZM767.3 979.7H770.1V991.0H767.3ZM770.1 979.7H772.9V993.8H770.1ZM767.3 1464.4H770.1V1475.7H767.3ZM770.1 1464.4H772.9V1478.5H770.1ZM891.5 39.1H897.1V64.8H891.5ZM891.5 495.4H897.1V521.1H891.5ZM891.5 979.7H897.1V1005.4H891.5ZM891.5 1464.4H897.1V1490.1H891.5ZM1012.8 39.1H1015.6V50.4H1012.8ZM1015.6 39.1H1018.4V53.2H1015.6ZM1012.8 495.4H1015.6V506.7H1012.8ZM1015.6 495.4H1018.4V509.5H1015.6ZM1012.8 979.7H1015.6V991.0H1012.8ZM1015.6 979.7H1018.4V993.8H1015.6ZM1012.8 1464.4H1015.6V1475.7H1012.8ZM1015.6 1464.4H1018.4V1478.5H1015.6ZM1134.2 39.1H1139.8V64.8H1134.2ZM1134.2 495.4H1139.8V521.1H1134.2ZM1134.2 979.7H1139.8V1005.4H1134.2ZM1134.2 1464.4H1139.8V1490.1H1134.2ZM1255.0 39.1H1257.8V50.4H1255.0ZM1257.8 39.1H1260.6V53.2H1257.8ZM1255.0 495.4H1257.8V506.7H1255.0ZM1257.8 495.4H1260.6V509.5H1257.8ZM1255.0 979.7H1257.8V991.0H1255.0ZM1257.8 979.7H1260.6V993.8H1257.8ZM1255.0 1464.4H1257.8V1475.7H1255.0ZM1257.8 1464.4H1260.6V1478.5H1257.8ZM1379.2 39.1H1384.8V64.8H1379.2ZM1379.2 495.4H1384.8V521.1H1379.2ZM1379.2 979.7H1384.8V1005.4H1379.2ZM1379.2 1464.4H1384.8V1490.1H1379.2ZM1500.2 39.1H1503.0V50.4H1500.2ZM1503.0 39.1H1505.8V53.2H1503.0ZM1500.2 495.4H1503.0V506.7H1500.2ZM1503.0 495.4H1505.8V509.5H1503.0ZM1500.2 979.7H1503.0V991.0H1500.2ZM1503.0 979.7H1505.8V993.8H1503.0ZM1500.2 1464.4H1503.0V1475.7H1500.2ZM1503.0 1464.4H1505.8V1478.5H1503.0ZM1621.5 39.1H1627.1V64.8H1621.5ZM1621.5 495.4H1627.1V521.1H1621.5ZM1621.5 979.7H1627.1V1005.4H1621.5ZM1621.5 1464.4H1627.1V1490.1H1621.5ZM1742.7 39.1H1745.5V50.4H1742.7ZM1745.5 39.1H1748.3V53.2H1745.5ZM1742.7 495.4H1745.5V506.7H1742.7ZM1745.5 495.4H1748.3V509.5H1745.5ZM1742.7 979.7H1745.5V991.0H1742.7ZM1745.5 979.7H1748.3V993.8H1745.5ZM1742.7 1464.4H1745.5V1475.7H1742.7ZM1745.5 1464.4H1748.3V1478.5H1745.5ZM1866.7 39.1H1872.3V64.8H1866.7ZM1866.7 495.4H1872.3V521.1H1866.7ZM1866.7 979.7H1872.3V1005.4H1866.7ZM1866.7 1464.4H1872.3V1490.1H1866.7ZM1988.0 39.1H1990.8V50.4H1988.0ZM1990.8 39.1H1993.6V53.2H1990.8ZM1988.0 495.4H1990.8V506.7H1988.0ZM1990.8 495.4H1993.6V509.5H1990.8ZM1988.0 979.7H1990.8V991.0H1988.0ZM1990.8 979.7H1993.6V993.8H1990.8ZM1988.0 1464.4H1990.8V1475.7H1988.0ZM1990.8 1464.4H1993.6V1478.5H1990.8ZM133.5 56.5H159.4V62.1H133.5ZM2083.7 56.5H2109.5V62.1H2083.7ZM133.5 109.6H159.4V115.2H133.5ZM2083.7 109.6H2109.5V115.2H2083.7ZM133.5 163.2H159.4V168.8H133.5ZM2083.7 163.2H2109.5V168.8H2083.7ZM133.5 216.8H159.4V222.4H133.5ZM2083.7 216.8H2109.5V222.4H2083.7ZM133.5 273.5H159.4V279.1H133.5ZM2083.7 273.5H2109.5V279.1H2083.7ZM133.5 327.1H159.4V332.7H133.5ZM2083.7 327.1H2109.5V332.7H2083.7ZM133.5 380.1H159.4V385.7H133.5ZM2083.7 380.1H2109.5V385.7H2083.7ZM133.5 433.8H159.4V439.4H133.5ZM2083.7 433.8H2109.5V439.4H2083.7ZM133.5 490.3H159.4V495.9H133.5ZM2083.7 490.3H2109.5V495.9H2083.7ZM133.5 518.3H159.4V523.9H133.5ZM2083.7 518.3H2109.5V523.9H2083.7ZM133.5 577.0H159.4V582.6H133.5ZM2083.7 577.0H2109.5V582.6H2083.7ZM133.5 633.6H159.4V639.2H133.5ZM2083.7 633.6H2109.5V639.2H2083.7ZM133.5 690.3H159.4V695.9H133.5ZM2083.7 690.3H2109.5V695.9H2083.7ZM133.5 746.9H159.4V752.5H133.5ZM2083.7 746.9H2109.5V752.5H2083.7ZM133.5 802.9H159.4V808.5H133.5ZM2083.7 802.9H2109.5V808.5H2083.7ZM133.5 859.5H159.4V865.1H133.5ZM2083.7 859.5H2109.5V865.1H2083.7ZM133.5 918.2H159.4V923.8H133.5ZM2083.7 918.2H2109.5V923.8H2083.7ZM133.5 974.6H159.4V980.2H133.5ZM2083.7 974.6H2109.5V980.2H2083.7ZM133.5 1004.9H159.4V1010.5H133.5ZM2083.7 1004.9H2109.5V1010.5H2083.7ZM133.5 1062.1H159.4V1067.7H133.5ZM2083.7 1062.1H2109.5V1067.7H2083.7ZM133.5 1118.7H159.4V1124.3H133.5ZM2083.7 1118.7H2109.5V1124.3H2083.7ZM133.5 1174.7H159.4V1180.3H133.5ZM2083.7 1174.7H2109.5V1180.3H2083.7ZM133.5 1231.3H159.4V1236.9H133.5ZM2083.7 1231.3H2109.5V1236.9H2083.7ZM133.5 1290.0H159.4V1295.6H133.5ZM2083.7 1290.0H2109.5V1295.6H2083.7ZM133.5 1346.7H159.4V1352.3H133.5ZM2083.7 1346.7H2109.5V1352.3H2083.7ZM133.5 1403.3H159.4V1408.9H133.5ZM2083.7 1403.3H2109.5V1408.9H2083.7ZM133.5 1459.3H159.4V1464.9H133.5ZM2083.7 1459.3H2109.5V1464.9H2083.7ZM147.8 82.0H159.4V84.8H147.8ZM145.0 84.8H159.4V87.6H145.0ZM2097.9 82.0H2109.5V87.6H2097.9ZM147.8 138.2H159.4V141.0H147.8ZM145.0 141.0H159.4V143.8H145.0ZM2097.9 138.2H2109.5V143.8H2097.9ZM147.8 192.1H159.4V194.9H147.8ZM145.0 194.9H159.4V197.7H145.0ZM2097.9 192.1H2109.5V197.7H2097.9ZM147.8 245.4H159.4V248.2H147.8ZM145.0 248.2H159.4V251.0H145.0ZM2097.9 245.4H2109.5V251.0H2097.9ZM147.8 298.8H159.4V301.6H147.8ZM145.0 301.6H159.4V304.4H145.0ZM2097.9 298.8H2109.5V304.4H2097.9ZM147.8 352.4H159.4V355.2H147.8ZM145.0 355.2H159.4V358.0H145.0ZM2097.9 352.4H2109.5V358.0H2097.9ZM147.8 408.4H159.4V411.2H147.8ZM145.0 411.2H159.4V414.0H145.0ZM2097.9 408.4H2109.5V414.0H2097.9ZM147.8 462.1H159.4V464.9H147.8ZM145.0 464.9H159.4V467.7H145.0ZM2097.9 462.1H2109.5V467.7H2097.9ZM147.8 546.6H159.4V549.4H147.8ZM145.0 549.4H159.4V552.2H145.0ZM2097.9 546.6H2109.5V552.2H2097.9ZM147.8 605.9H159.4V608.7H147.8ZM145.0 608.7H159.4V611.5H145.0ZM2097.9 605.9H2109.5V611.5H2097.9ZM147.8 661.9H159.4V664.7H147.8ZM145.0 664.7H159.4V667.5H145.0ZM2097.9 661.9H2109.5V667.5H2097.9ZM147.8 718.0H159.4V720.8H147.8ZM145.0 720.8H159.4V723.6H145.0ZM2097.9 718.0H2109.5V723.6H2097.9ZM147.8 774.6H159.4V777.4H147.8ZM145.0 777.4H159.4V780.2H145.0ZM2097.9 774.6H2109.5V780.2H2097.9ZM147.8 831.2H159.4V834.0H147.8ZM145.0 834.0H159.4V836.8H145.0ZM2097.9 831.2H2109.5V836.8H2097.9ZM147.8 889.9H159.4V892.7H147.8ZM145.0 892.7H159.4V895.5H145.0ZM2097.9 889.9H2109.5V895.5H2097.9ZM147.8 946.5H159.4V949.3H147.8ZM145.0 949.3H159.4V952.1H145.0ZM2097.9 946.5H2109.5V952.1H2097.9ZM147.8 1034.1H159.4V1036.9H147.8ZM145.0 1036.9H159.4V1039.7H145.0ZM2097.9 1034.1H2109.5V1039.7H2097.9ZM147.8 1089.8H159.4V1092.6H147.8ZM145.0 1092.6H159.4V1095.4H145.0ZM2097.9 1089.8H2109.5V1095.4H2097.9ZM147.8 1146.4H159.4V1149.2H147.8ZM145.0 1149.2H159.4V1152.0H145.0ZM2097.9 1146.4H2109.5V1152.0H2097.9ZM147.8 1203.0H159.4V1205.8H147.8ZM145.0 1205.8H159.4V1208.6H145.0ZM2097.9 1203.0H2109.5V1208.6H2097.9ZM147.8 1259.6H159.4V1262.4H147.8ZM145.0 1262.4H159.4V1265.2H145.0ZM2097.9 1259.6H2109.5V1265.2H2097.9ZM147.8 1318.4H159.4V1321.2H147.8ZM145.0 1321.2H159.4V1324.0H145.0ZM2097.9 1318.4H2109.5V1324.0H2097.9ZM147.8 1375.0H159.4V1377.8H147.8ZM145.0 1377.8H159.4V1380.6H145.0ZM2097.9 1375.0H2109.5V1380.6H2097.9ZM147.8 1431.0H159.4V1433.8H147.8ZM145.0 1433.8H159.4V1436.6H145.0ZM2097.9 1431.0H2109.5V1436.6H2097.9Z"/>
</g>
<g id="legend-lines">
<rect x="178.7" y="104.4" width="155.1" height="2.8" fill="#000"/>
<rect x="178.7" y="597.2" width="155.1" height="2.8" fill="#f00"/>
<rect x="178.7" y="1073.0" width="155.1" height="2.8" fill="#00f"/>
</g>
<g id="labels" fill="#000" font-family="'Liberation Sans', Arial, Helvetica, sans-serif">
<text font-size="57.3" text-anchor="middle" stroke="#fff" stroke-width="0.4" transform="translate(158.2 1549.1) scale(1.0 1.06)">20</text>
<text font-size="57.3" text-anchor="middle" stroke="#fff" stroke-width="0.4" transform="translate(403.4 1549.1) scale(1.0 1.06)">25</text>
<text font-size="57.3" text-anchor="middle" stroke="#fff" stroke-width="0.4" transform="translate(647.2 1549.1) scale(1.0 1.06)">30</text>
<text font-size="57.3" text-anchor="middle" stroke="#fff" stroke-width="0.4" transform="translate(891.6 1549.1) scale(1.0 1.06)">35</text>
<text font-size="57.3" text-anchor="middle" stroke="#fff" stroke-width="0.4" transform="translate(1135.7 1549.1) scale(1.0 1.06)">40</text>
<text font-size="57.3" text-anchor="middle" stroke="#fff" stroke-width="0.4" transform="translate(1379.0 1549.1) scale(1.0 1.06)">45</text>
<text font-size="57.3" text-anchor="middle" stroke="#fff" stroke-width="0.4" transform="translate(1623.1 1549.1) scale(1.0 1.06)">50</text>
<text font-size="57.3" text-anchor="middle" stroke="#fff" stroke-width="0.4" transform="translate(1866.5 1549.1) scale(1.0 1.06)">55</text>
<text font-size="57.3" text-anchor="middle" stroke="#fff" stroke-width="0.4" transform="translate(2111.3 1549.1) scale(1.0 1.06)">60</text>
<text font-size="71.6" stroke="#fff" stroke-width="0.9" transform="translate(353.0 130.2) scale(0.985 1.03)">85<tspan dx="-2">0</tspan><tspan dx="-0.8">°</tspan><tspan dx="0.8">C</tspan></text>
<text font-size="71.6" stroke="#fff" stroke-width="0.9" transform="translate(353.0 623.4) scale(0.985 1.03)">90<tspan dx="-2">0</tspan><tspan dx="-0.8">°</tspan><tspan dx="0.8">C</tspan></text>
<text font-size="71.6" stroke="#fff" stroke-width="0.9" transform="translate(353.0 1098.4) scale(0.985 1.03)">95<tspan dx="-2">0</tspan><tspan dx="-0.8">°</tspan><tspan dx="0.8">C</tspan></text>
<text font-size="71.2" stroke="#fff" stroke-width="1.0" transform="translate(1927.6 135.9) scale(1.015 1.02)">SrS</text>
<text font-size="55.6" text-anchor="middle" font-family="'DejaVu Sans', 'Liberation Sans', sans-serif" font-weight="200" stroke="#000" stroke-width="1.2" transform="translate(1872.4 134.2) scale(1.23 1.0)">o</text>
<text transform="translate(0 1639.3)" font-size="82"><tspan x="1033.6" font-size="83.5">2</tspan><tspan x="1082.6" dy="1" font-size="80.2" stroke="#fff" stroke-width="3">θ</tspan><tspan> </tspan><tspan x="1148.2" dy="-1" stroke="#fff" stroke-width="2.4">(</tspan><tspan x="1175.8" font-size="84" stroke="#fff" stroke-width="1.8">°</tspan><tspan x="1210.8" stroke="#fff" stroke-width="2.4">)</tspan></text>
<text font-size="82.4" text-anchor="middle" stroke="#fff" stroke-width="0.8" transform="translate(83.8 802.7) rotate(-90) scale(1.005 1.045)">Intensity <tspan dx="-2">(</tspan><tspan dx="-1.5">a</tspan><tspan dx="1.5">.</tspan> <tspan dx="-2">u</tspan><tspan dx="2.7">.</tspan><tspan dx="2.8">)</tspan></text>
<text font-size="47.8" text-anchor="middle" font-family="'DejaVu Sans', 'Liberation Sans', sans-serif" font-weight="200" stroke="#000" stroke-width="0.8" transform="translate(436.0 317.1) scale(1.12 1.0)">o</text>
<text font-size="47.8" text-anchor="middle" font-family="'DejaVu Sans', 'Liberation Sans', sans-serif" font-weight="200" stroke="#000" stroke-width="0.8" transform="translate(633.1 75.0) scale(1.12 1.0)">o</text>
<text font-size="47.8" text-anchor="middle" font-family="'DejaVu Sans', 'Liberation Sans', sans-serif" font-weight="200" stroke="#000" stroke-width="0.8" transform="translate(1256.0 229.6) scale(1.12 1.0)">o</text>
<text font-size="47.8" text-anchor="middle" font-family="'DejaVu Sans', 'Liberation Sans', sans-serif" font-weight="200" stroke="#000" stroke-width="0.8" transform="translate(1637.0 415.8) scale(1.12 1.0)">o</text>
<text font-size="47.8" text-anchor="middle" font-family="'DejaVu Sans', 'Liberation Sans', sans-serif" font-weight="200" stroke="#000" stroke-width="0.8" transform="translate(1752.5 395.9) scale(1.12 1.0)">o</text>
<text font-size="47.8" text-anchor="middle" font-family="'DejaVu Sans', 'Liberation Sans', sans-serif" font-weight="200" stroke="#000" stroke-width="0.8" transform="translate(436.4 829.8) scale(1.12 1.0)">o</text>
<text font-size="47.8" text-anchor="middle" font-family="'DejaVu Sans', 'Liberation Sans', sans-serif" font-weight="200" stroke="#000" stroke-width="0.8" transform="translate(633.6 581.9) scale(1.12 1.0)">o</text>
<text font-size="47.8" text-anchor="middle" font-family="'DejaVu Sans', 'Liberation Sans', sans-serif" font-weight="200" stroke="#000" stroke-width="0.8" transform="translate(1256.2 731.1) scale(1.12 1.0)">o</text>
<text font-size="47.8" text-anchor="middle" font-family="'DejaVu Sans', 'Liberation Sans', sans-serif" font-weight="200" stroke="#000" stroke-width="0.8" transform="translate(1637.1 906.0) scale(1.12 1.0)">o</text>
<text font-size="47.8" text-anchor="middle" font-family="'DejaVu Sans', 'Liberation Sans', sans-serif" font-weight="200" stroke="#000" stroke-width="0.8" transform="translate(1750.2 891.9) scale(1.12 1.0)">o</text>
<text font-size="47.8" text-anchor="middle" font-family="'DejaVu Sans', 'Liberation Sans', sans-serif" font-weight="200" stroke="#000" stroke-width="0.8" transform="translate(438.9 1317.0) scale(1.12 1.0)">o</text>
<text font-size="47.8" text-anchor="middle" font-family="'DejaVu Sans', 'Liberation Sans', sans-serif" font-weight="200" stroke="#000" stroke-width="0.8" transform="translate(633.7 1077.5) scale(1.12 1.0)">o</text>
<text font-size="47.8" text-anchor="middle" font-family="'DejaVu Sans', 'Liberation Sans', sans-serif" font-weight="200" stroke="#000" stroke-width="0.8" transform="translate(1256.2 1232.6) scale(1.12 1.0)">o</text>
<text font-size="47.8" text-anchor="middle" font-family="'DejaVu Sans', 'Liberation Sans', sans-serif" font-weight="200" stroke="#000" stroke-width="0.8" transform="translate(1637.1 1390.3) scale(1.12 1.0)">o</text>
<text font-size="47.8" text-anchor="middle" font-family="'DejaVu Sans', 'Liberation Sans', sans-serif" font-weight="200" stroke="#000" stroke-width="0.8" transform="translate(1752.7 1381.8) scale(1.12 1.0)">o</text>
</g>
</svg>
</body>
</html>
